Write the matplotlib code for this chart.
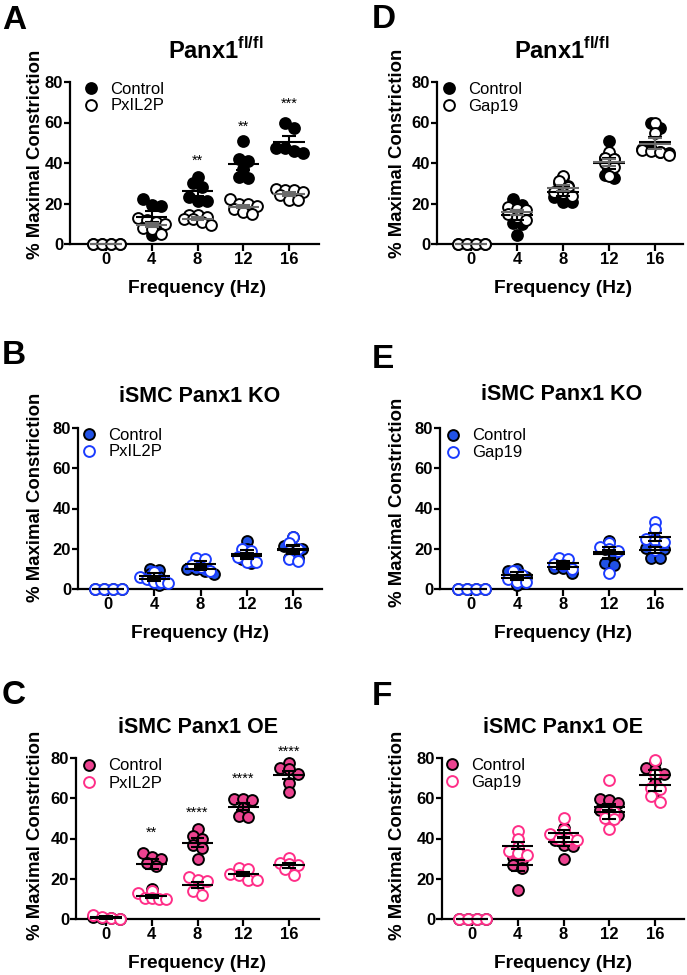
import numpy as np
import matplotlib
matplotlib.use("Agg")
import matplotlib.pyplot as plt
from matplotlib.lines import Line2D

plt.rcParams["font.family"] = ["Liberation Sans", "DejaVu Sans"]
plt.rcParams["mathtext.fontset"] = "custom"
plt.rcParams["mathtext.bf"] = "Liberation Sans:bold"
plt.rcParams["mathtext.rm"] = "Liberation Sans"

# ---- data, % maximal constriction ----
freqs = ["0", "4", "8", "12", "16"]

a_ctrl = [[0, 0, 0, 0], [22, 19.5, 19, 11, 10, 9, 4.5], [33, 30, 28, 23, 21, 21],
          [51, 42, 41, 37, 33, 32.5], [60, 57.5, 47.5, 47.5, 46, 45]]
a_trt = [[0, 0, 0, 0], [13, 12, 11, 10, 8, 7.5, 5], [14.5, 14.5, 13.5, 12.5, 12.5, 11, 9.5],
         [22, 20, 20, 19, 17.5, 16, 15], [27, 26.5, 26.5, 25.5, 24, 21.7, 21.5]]
a_stars = ["", "", "**", "**", "***"]
a_star_y = [0, 0, 43, 60, 71.5]

d_ctrl = [[0, 0, 0, 0], [22, 19.5, 18.5, 16, 10.5, 10, 4.5], [33, 30, 28.5, 23, 20.5, 20.5],
          [51, 42.5, 42, 37, 34, 32.5], [60, 57.5, 47, 47, 45.5, 45]]
d_trt = [[0, 0, 0, 0], [18.5, 17.5, 17, 15, 13.5, 12], [33.5, 31, 28, 25.5, 25, 23.5],
         [45.5, 42.5, 42, 40, 38, 33.5], [60, 55, 46.5, 46, 45.5, 44]]

b_ctrl = [[0, 0, 0, 0], [10, 9.5, 7.5, 6, 5, 2], [13, 11.5, 10, 10, 8.8, 7.5],
          [24, 20, 17, 16.5, 15, 13], [26, 21.5, 20.5, 20, 15.5, 15.5]]
b_trt = [[0, 0, 0, 0], [8.5, 6, 5, 3.5, 3.3, 3], [15.5, 15, 12, 11, 9],
         [20, 19, 16, 13.5, 13.3], [26, 23, 20, 15, 14]]

e_ctrl = [[0, 0, 0, 0], [10, 9, 7.5, 6, 2], [13, 11.5, 10.5, 10.5, 8],
          [24, 20, 17, 13, 12], [25, 20.5, 20.5, 20, 15.5, 15.5]]
e_trt = [[0, 0, 0, 0], [9, 7, 5, 3.5, 3.3], [15.5, 15, 12.5, 12, 10],
         [23, 21, 20, 19, 8], [33.5, 30, 25, 24.5, 23.5, 19.5]]

c_ctrl = [[0.8, 0.5, 0.3, 0], [33, 31, 30, 28, 26.5, 15], [44.5, 41, 40, 37, 35.5, 30],
          [59.5, 59.5, 59, 55, 51, 50.5], [77.5, 75, 74.5, 72, 67.5, 63]]
c_trt = [[2.2, 0.8, 0.3, 0], [14, 13, 10.5, 10.5, 10, 10], [21, 19.5, 19, 15.5, 14, 12],
         [25.5, 25, 22.5, 22, 19.5, 19.5], [30.5, 28, 27.5, 27, 25, 22]]
c_stars = ["", "**", "****", "****", "****"]
c_star_y = [0, 45, 55, 71.8, 85.2]

f_ctrl = [[0, 0, 0, 0], [33, 31, 29.5, 27, 25.5, 14.5], [45, 41, 39.5, 37, 36.5, 30],
          [59.5, 59, 57.5, 54, 52.5, 51.5], [78, 75, 74, 72, 67.5, 63.5]]
f_trt = [[0, 0, 0, 0], [43.5, 40, 36, 34, 33, 32], [50, 44, 42, 40, 40, 39.5],
         [69, 53.5, 53, 50, 49.5, 44.5], [79, 72, 65, 64.5, 61, 58]]

# ---- layout in pixels ----
W, H = 687, 975
fig = plt.figure(figsize=(W / 100, H / 100), dpi=100)

BLACK = dict(cf="black", ce="black", tf="white", te="black", tbar="#6a6a6a")
BLUE = dict(cf="#2152e6", ce="black", tf="white", te="#1b3cff", tbar="black")
PINK = dict(cf="#ec4390", ce="black", tf="white", te="#ff2e88", tbar="black")

panels = [
    # axes box (l, t, r, b) and centres of the 0 / 16 Hz columns, all in pixels
    dict(letter="A", title=r"Panx1$^{\mathbf{fl/fl}}$", tsize=17, trt_name="PxIL2P",
         ctrl=a_ctrl, trt=a_trt, col=BLACK, stars=a_stars, star_y=a_star_y,
         box=(70, 82, 319, 244), c=(106, 289),
         let=(2, 29), tit=(216, 59), ylab=(36, 154), leg=(91, 89)),
    dict(letter="D", title=r"Panx1$^{\mathbf{fl/fl}}$", tsize=17, trt_name="Gap19",
         ctrl=d_ctrl, trt=d_trt, col=BLACK, stars=None, star_y=None,
         box=(437, 82, 683, 244), c=(471, 655),
         let=(372, 28), tit=(562, 59), ylab=(398, 153), leg=(449, 89)),
    dict(letter="B", title="iSMC Panx1 KO", tsize=15.5, trt_name="PxIL2P",
         ctrl=b_ctrl, trt=b_trt, col=BLUE, stars=None, star_y=None,
         box=(78, 428, 322, 589), c=(108, 293),
         let=(2, 364), tit=(200, 402), ylab=(36, 497), leg=(89, 435)),
    dict(letter="E", title="iSMC Panx1 KO", tsize=15.5, trt_name="Gap19",
         ctrl=e_ctrl, trt=e_trt, col=BLUE, stars=None, star_y=None,
         box=(440, 428, 682, 589), c=(471, 655),
         let=(372, 368), tit=(562, 400), ylab=(398, 502), leg=(453, 436)),
    dict(letter="C", title="iSMC Panx1 OE", tsize=15.5, trt_name="PxIL2P",
         ctrl=c_ctrl, trt=c_trt, col=PINK, stars=c_stars, star_y=c_star_y,
         box=(76, 758, 319, 919), c=(106, 289),
         let=(2, 704), tit=(198, 733), ylab=(36, 835), leg=(89, 766)),
    dict(letter="F", title="iSMC Panx1 OE", tsize=15.5, trt_name="Gap19",
         ctrl=f_ctrl, trt=f_trt, col=PINK, stars=None, star_y=None,
         box=(442, 758, 684, 919), c=(472, 655),
         let=(372, 705), tit=(563, 733), ylab=(398, 835), leg=(452, 765)),
]

MS = 7.8      # marker size (pt)
ROW_H = 7.0   # points closer than this (px, vertically) share a row
SPACE = 9.0   # horizontal spacing inside a row (px)
CAP = 14.0    # max half width of a column of points (px)


def fig_text(x, y, s, **kw):
    return fig.text(x / W, 1 - y / H, s, **kw)


def swarm(vals, xpx, ypx):
    """Prism-like column scatter: close values are put side by side in rows."""
    vals = np.asarray(vals, float)
    order = np.argsort(vals, kind="stable")
    rows, cur = [], [order[0]]
    for i in order[1:]:
        if (vals[i] - vals[cur[0]]) * ypx < ROW_H:
            cur.append(i)
        else:
            rows.append(cur)
            cur = [i]
    rows.append(cur)
    offs = np.zeros(len(vals))
    for row in rows:
        k = len(row)
        if k == 1:
            continue
        sp = min(SPACE, 2 * CAP / (k - 1))
        for j, i in enumerate(sorted(row)):
            offs[i] = (j - (k - 1) / 2) * sp / xpx
    return offs


def mean_sem(ax, x, vals, color):
    v = np.asarray(vals, float)
    m = v.mean()
    s = v.std(ddof=1) / np.sqrt(len(v)) if len(v) > 1 else 0
    kw = dict(color=color, lw=1.5, zorder=5, clip_on=False)
    ax.hlines(m, x - 0.34, x + 0.34, **kw)
    if s > 0:
        ax.vlines(x, m - s, m + s, **kw)
        ax.hlines([m - s, m + s], x - 0.15, x + 0.15, **kw)


for p in panels:
    l, t, r, b = p["box"]
    c0, c16 = p["c"]
    unit = (c16 - c0) / 4
    ax = fig.add_axes([l / W, 1 - b / H, (r - l) / W, (b - t) / H])
    ax.set_xlim((l - c0) / unit, (r - c0) / unit)
    ax.set_ylim(0, 80)
    ypx = (b - t) / 80
    col = p["col"]

    for i in range(len(freqs)):
        for vals, fc, ec, z in [(p["ctrl"][i], col["cf"], col["ce"], 3),
                                (p["trt"][i], col["tf"], col["te"], 4)]:
            xs = i + swarm(vals, unit, ypx)
            ax.plot(xs, vals, ls="none", marker="o", ms=MS, mfc=fc, mec=ec, mew=1.4,
                    zorder=z, clip_on=False)
        mean_sem(ax, i, p["ctrl"][i], "black")
        mean_sem(ax, i, p["trt"][i], col["tbar"])
        if p["stars"] and p["stars"][i]:
            ax.text(i, p["star_y"][i] - 4, p["stars"][i], ha="center", va="baseline",
                    fontsize=10.5, clip_on=False)

    ax.set_xticks(range(len(freqs)))
    ax.set_xticklabels(freqs)
    ax.set_yticks([0, 20, 40, 60, 80])
    for side in ["top", "right"]:
        ax.spines[side].set_visible(False)
    for side in ["left", "bottom"]:
        ax.spines[side].set_linewidth(1.6)
    ax.tick_params(axis="both", direction="out", width=1.6, labelsize=12, pad=1)
    ax.tick_params(axis="y", length=4)
    ax.tick_params(axis="x", length=5)
    for lab in ax.get_xticklabels() + ax.get_yticklabels():
        lab.set_fontweight("bold")

    handles = [
        Line2D([], [], ls="none", marker="o", ms=MS, mfc=col["cf"], mec=col["ce"], mew=1.4),
        Line2D([], [], ls="none", marker="o", ms=MS, mfc=col["tf"], mec=col["te"], mew=1.4),
    ]
    mx, my = p["leg"]
    fs = 12
    em = fs * 100 / 72
    hl = 0.8
    left_px = mx - hl * em / 2
    top_px = my - 0.45 * em
    ax.legend(handles, ["Control", p["trt_name"]], loc="upper left",
              bbox_to_anchor=((left_px - l) / (r - l), (b - top_px) / (b - t)),
              frameon=False, fontsize=fs, handlelength=hl, handletextpad=0.75,
              labelspacing=0.12, borderaxespad=0, borderpad=0)

    # labels
    xc = (c0 + c16) / 2
    fig_text(xc, b + 49, "Frequency (Hz)", ha="center", va="baseline",
             fontsize=13.8, fontweight="bold")
    fig_text(p["ylab"][0], p["ylab"][1], "% Maximal Constriction", ha="center", va="center",
             rotation=90, fontsize=13.4, fontweight="bold")
    fig_text(p["tit"][0], p["tit"][1], p["title"], ha="center", va="baseline",
             fontsize=p["tsize"], fontweight="bold")
    fig_text(p["let"][0], p["let"][1], p["letter"], ha="left", va="baseline",
             fontsize=24, fontweight="bold")

fig.savefig("out.png", dpi=100)
